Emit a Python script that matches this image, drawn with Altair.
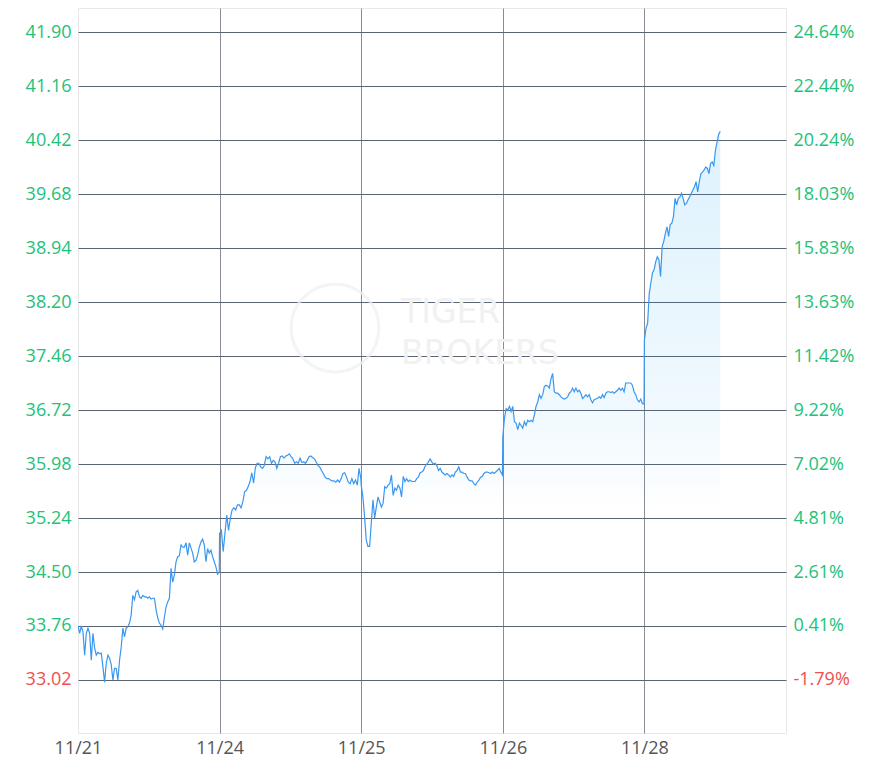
import json
import altair as alt
import pandas as pd

# ---------------- data ----------------
dates = ["11/21", "11/24", "11/25", "11/26", "11/28"]
session_minutes = [390, 390, 390, 390, 210]

p_1121 = [33.76, 33.66, 33.76, 33.68, 33.36, 33.66, 33.73, 33.66, 33.29, 33.66, 33.46, 33.36,
          33.40, 33.38, 33.39, 33.20, 32.99, 33.25, 33.36, 33.32, 33.23, 33.02, 33.18, 33.18,
          33.02, 33.29, 33.47, 33.73, 33.61, 33.73, 33.75, 33.80, 33.91, 34.18, 34.12, 34.23,
          34.25, 34.16, 34.14, 34.18, 34.16, 34.16, 34.14, 34.16, 34.13, 34.14, 34.14, 33.98,
          33.87, 33.80, 33.77, 33.72, 33.88, 34.02, 34.09, 34.14, 34.55, 34.36, 34.46, 34.64,
          34.71, 34.72, 34.87, 34.84, 34.84, 34.90, 34.73, 34.90, 34.83, 34.76, 34.64, 34.66,
          34.73, 34.84, 34.91, 34.95, 34.87, 34.64, 34.82, 34.76, 34.80, 34.71, 34.64, 34.57,
          34.47, 34.50]
p_1124 = [35.03, 35.07, 34.78, 35.03, 35.28, 35.07, 35.24, 35.35, 35.38, 35.35, 35.42, 35.42,
          35.38, 35.46, 35.60, 35.62, 35.67, 35.74, 35.86, 35.72, 35.93, 35.99, 35.99, 35.94,
          35.92, 35.96, 36.08, 36.05, 36.08, 35.99, 36.03, 36.01, 35.92, 35.99, 36.08, 36.09,
          36.06, 36.09, 36.10, 36.12, 36.08, 36.05, 35.99, 36.01, 35.99, 36.06, 36.00, 36.01,
          35.99, 36.03, 36.08, 36.09, 36.07, 36.05, 36.01, 35.96, 35.94, 35.89, 35.85, 35.80,
          35.78, 35.78, 35.76, 35.75, 35.75, 35.73, 35.76, 35.73, 35.78, 35.85, 35.86, 35.80,
          35.73, 35.71, 35.78, 35.71, 35.76, 35.69, 35.92, 35.78]
p_1125 = [35.69, 35.53, 35.26, 34.94, 34.85, 34.85, 35.17, 35.49, 35.24, 35.39, 35.53, 35.46,
          35.39, 35.44, 35.67, 35.65, 35.69, 35.71, 35.83, 35.55, 35.65, 35.62, 35.69, 35.65,
          35.53, 35.81, 35.74, 35.78, 35.74, 35.76, 35.74, 35.74, 35.74, 35.78, 35.80, 35.86,
          35.87, 35.89, 35.95, 35.98, 36.01, 36.05, 36.01, 35.98, 35.99, 35.96, 35.89, 35.92,
          35.87, 35.85, 35.83, 35.85, 35.83, 35.80, 35.83, 35.81, 35.87, 35.89, 35.94, 35.87,
          35.87, 35.85, 35.85, 35.80, 35.76, 35.75, 35.75, 35.71, 35.69, 35.73, 35.76, 35.80,
          35.81, 35.85, 35.87, 35.87, 35.86, 35.85, 35.87, 35.85, 35.87, 35.89, 35.92, 35.87,
          35.83]
p_1126 = [36.35, 36.61, 36.74, 36.72, 36.77, 36.70, 36.77, 36.56, 36.54, 36.45, 36.54, 36.51,
          36.47, 36.56, 36.51, 36.58, 36.56, 36.58, 36.56, 36.65, 36.77, 36.83, 36.93, 36.88,
          36.93, 37.04, 37.06, 37.05, 37.02, 37.15, 37.22, 36.97, 36.95, 36.95, 36.93, 36.90,
          36.88, 36.87, 36.88, 36.90, 36.95, 36.97, 37.02, 36.97, 37.02, 36.97, 36.99, 36.95,
          36.88, 36.90, 36.93, 36.90, 36.93, 36.86, 36.82, 36.86, 36.87, 36.88, 36.90, 36.88,
          36.93, 36.89, 36.95, 36.97, 36.97, 36.96, 36.97, 36.95, 36.97, 36.99, 37.02, 36.99,
          37.02, 36.97, 37.09, 37.09, 37.09, 37.09, 37.06, 36.97, 36.93, 36.86, 36.83, 36.87,
          36.81, 36.80]
p_1128 = [37.68, 37.84, 37.91, 38.32, 38.46, 38.60, 38.64, 38.75, 38.82, 38.78, 38.55, 38.96,
          39.03, 39.14, 39.23, 39.10, 39.26, 39.28, 39.37, 39.62, 39.53, 39.62, 39.64, 39.69,
          39.62, 39.53, 39.55, 39.60, 39.64, 39.69, 39.73, 39.78, 39.85, 39.71, 39.85, 39.96,
          39.98, 40.01, 40.05, 40.03, 39.96, 40.10, 40.12, 40.07, 40.28, 40.39, 40.50, 40.54]

price_ticks = [33.02, 33.76, 34.50, 35.24, 35.98, 36.72, 37.46, 38.20, 38.94, 39.68, 40.42, 41.16, 41.90]
pct_labels = ["-1.79%", "0.41%", "2.61%", "4.81%", "7.02%", "9.22%", "11.42%", "13.63%",
              "15.83%", "18.03%", "20.24%", "22.44%", "24.64%"]
Y_MIN, Y_MAX = 32.2937, 42.2289
watermark_lines = ["TIGER", "BROKERS"]

# ---------------- table ----------------
rows = []
for d, prices in enumerate([p_1121, p_1124, p_1125, p_1126, p_1128]):
    n = len(prices)
    span = (session_minutes[d] - 1) / 390.0
    for j, p in enumerate(prices):
        rows.append({"t": d + span * j / (n - 1), "price": p})
df = pd.DataFrame(rows)

GREEN = "#22c27a"
RED = "#f0504f"
FONT = "Open Sans"
FS = 18

x_scale = alt.Scale(domain=[0, 5], nice=False, zero=False)
x_axis = alt.Axis(values=list(range(len(dates))), title=None,
                  labelExpr=f"{json.dumps(dates)}[datum.value]",
                  labelFlush=False, labelOverlap=False, labelBound=False,
                  labelFont=FONT, labelFontSize=FS, labelColor="#555555",
                  labelPadding=6, domain=False, ticks=False,
                  grid=True, gridWidth=1,
                  gridColor={"condition": {"test": "datum.value == 0", "value": "#e8e8e8"},
                             "value": "#878c96"})
x_enc = alt.X("t:Q", scale=x_scale, axis=x_axis)

y_scale = alt.Scale(domain=[Y_MIN, Y_MAX], nice=False, zero=False)

left_axis = alt.Axis(values=price_ticks, format=".2f", title=None, orient="left",
                     domain=False, ticks=False, grid=True, gridColor="#5b6270", gridWidth=1,
                     labelFont=FONT, labelFontSize=FS, labelPadding=7,
                     labelColor={"condition": {"test": "datum.value < 33.5", "value": RED},
                                 "value": GREEN})

right_axis = alt.Axis(values=price_ticks, title=None, orient="right",
                      labelExpr=f"{json.dumps(pct_labels)}[round((datum.value - 33.02) / 0.74)]",
                      domain=False, ticks=False, grid=False,
                      labelFont=FONT, labelFontSize=FS, labelPadding=7,
                      labelColor={"condition": {"test": "datum.value < 33.5", "value": RED},
                                  "value": GREEN})

gradient = alt.Gradient(
    gradient="linear",
    stops=[alt.GradientStop(color="rgba(20,160,240,0.14)", offset=0),
           alt.GradientStop(color="rgba(20,160,240,0.065)", offset=0.45),
           alt.GradientStop(color="rgba(20,160,240,0.025)", offset=0.58),
           alt.GradientStop(color="rgba(20,160,240,0)", offset=0.625)],
    x1=0, x2=0, y1=0, y2=1)

base = alt.Chart(df)

area = base.mark_area(color=gradient, clip=True).encode(
    x=x_enc,
    y=alt.Y("price:Q", scale=y_scale, axis=left_axis),
    y2=alt.datum(Y_MIN),
)
line = base.mark_line(color="#3a97f0", strokeWidth=1.2, clip=True).encode(
    x=x_enc,
    y=alt.Y("price:Q", scale=y_scale, axis=left_axis),
)
left_layer = alt.layer(area, line)

right_layer = base.mark_line(opacity=0).encode(
    x=x_enc,
    y=alt.Y("price:Q", scale=y_scale, axis=right_axis),
)

# faint watermark
wm_ring = alt.Chart(pd.DataFrame({"k": [0]})).mark_point(
    shape="circle", size=7700, filled=False, stroke="#f0f0f0", strokeWidth=3
).encode(x=alt.value(257), y=alt.value(320))
wm_text = alt.Chart(pd.DataFrame({"k": [0]})).mark_text(
    align="left", baseline="alphabetic", font="DejaVu Sans", fontSize=33, fontWeight=400,
    color="#f1f1f1", lineHeight=41
).encode(x=alt.value(323), y=alt.value(315), text=alt.value(watermark_lines))

chart = alt.layer(wm_ring, wm_text, left_layer, right_layer).resolve_scale(
    y="independent"
).properties(
    width=708, height=725,
    padding={"left": 70, "top": 0, "right": 87, "bottom": 32},
    autosize=alt.AutoSizeParams(type="none"),
).configure_view(stroke="#e8e8e8", strokeWidth=1)

chart.save("out.html", embed_options={"renderer": "svg", "actions": False})
